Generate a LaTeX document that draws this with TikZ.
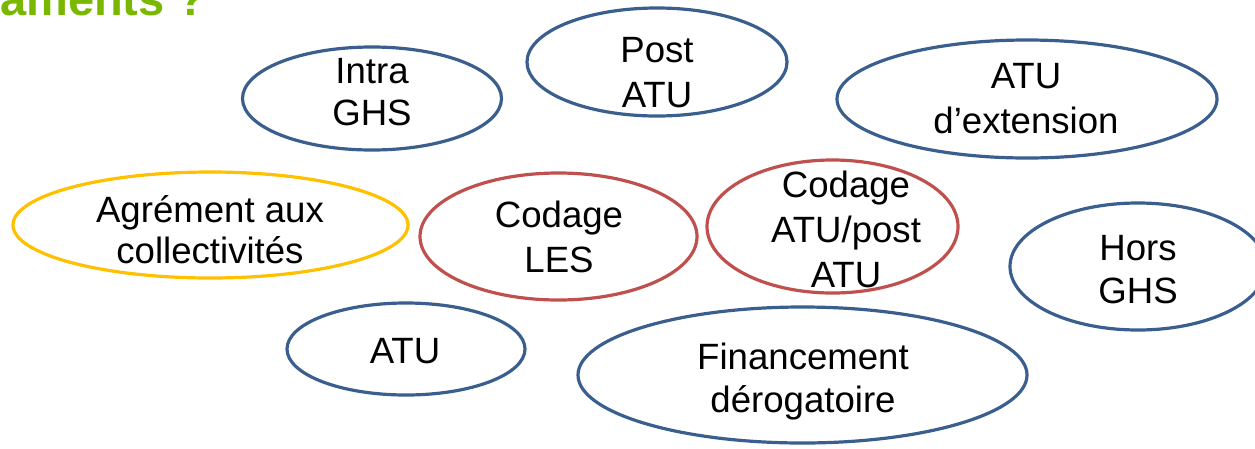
\documentclass[tikz,border=0pt]{standalone}
\usepackage{fontspec}
\setmainfont{Liberation Sans}
\usetikzlibrary{shapes.geometric}
\definecolor{ovblue}{HTML}{3A5F8E}
\definecolor{ovred}{HTML}{C0504D}
\definecolor{ovyellow}{HTML}{FFC000}
\definecolor{titlegreen}{HTML}{7AB800}
\tikzset{
  oval/.style={ellipse, draw=#1, line width=3.2pt, inner sep=0pt, outer sep=0pt},
  lbl/.style={anchor=base, align=center, inner sep=0pt, font=\fontsize{36.6}{#1}\selectfont},
}
\begin{document}
\begin{tikzpicture}[x=1pt, y=-1pt]
\useasboundingbox (0,0) rectangle (1255,448);
\clip (0,0) rectangle (1255,448);
% title fragment
\node[anchor=base west, inner sep=0pt, text=titlegreen, font=\fontsize{47}{56}\selectfont\bfseries] (title) at (0,15) {aments ?};
% ovals
\node[oval=ovblue, minimum width=259pt, minimum height=103pt] (intra) at (372,98.5) {};
\node[oval=ovblue, minimum width=260pt, minimum height=108pt] (post) at (657,62) {};
\node[oval=ovblue, minimum width=380pt, minimum height=118pt] (ext) at (1027,99) {};
\node[oval=ovyellow, minimum width=395pt, minimum height=106pt] (agr) at (210.5,225) {};
\node[oval=ovred, minimum width=277pt, minimum height=127pt] (les) at (558.5,236.5) {};
\node[oval=ovred, minimum width=251pt, minimum height=133pt] (catu) at (832.5,226.5) {};
\node[oval=ovblue, minimum width=256pt, minimum height=127pt] (hors) at (1138,266.5) {};
\node[oval=ovblue, minimum width=238pt, minimum height=92pt] (atu) at (406,349) {};
\node[oval=ovblue, minimum width=449pt, minimum height=136pt] (fin) at (802.5,375) {};
% labels (anchor = baseline of last line)
\node[lbl=42] (tintra) at (372,125) {Intra\\GHS};
\node[lbl=45] (tpost) at (657,107) {Post\\ATU};
\node[lbl=45] (text) at (1026,133) {ATU\\d’extension};
\node[lbl=41] (tagr) at (210,263) {Agrément aux\\collectivités};
\node[lbl=45] (tles) at (559,272) {Codage\\LES};
\node[lbl=45] (tcatu) at (846,287) {Codage\\ATU/post\\ATU};
\node[lbl=43] (thors) at (1138,303) {Hors\\GHS};
\node[lbl=44] (tatu) at (405,363) {ATU};
\node[lbl=43] (tfin) at (803,412) {Financement\\dérogatoire};
\end{tikzpicture}
\end{document}
